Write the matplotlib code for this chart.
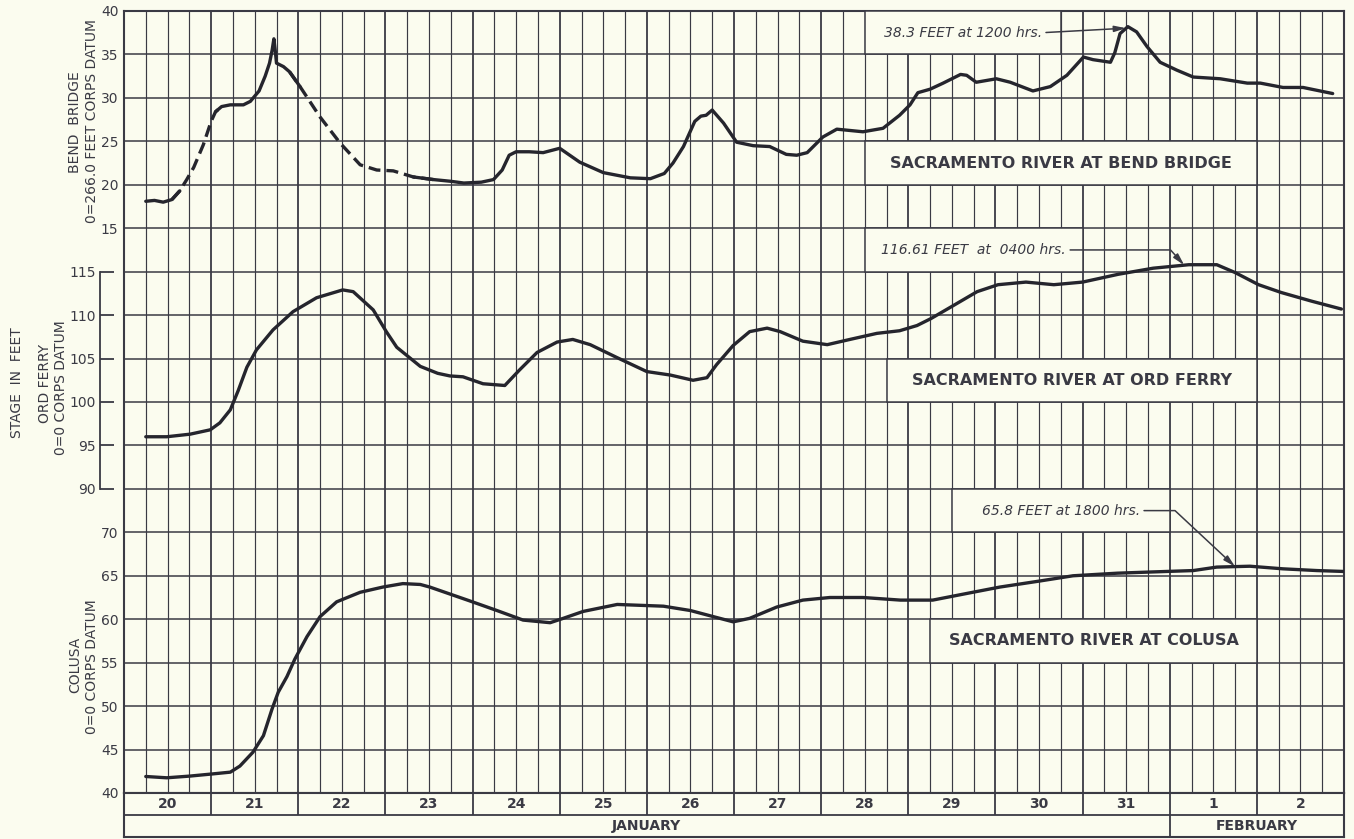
import numpy as np
import matplotlib.pyplot as plt
from matplotlib.patches import Rectangle

BG = "#fbfcef"
INK = "#3a3a44"
CURVE = "#25252d"

# time axis: day of January (Feb 1 = 32)
bend_day = [20.25, 20.35, 20.45, 20.55, 20.64, 20.72, 20.8, 20.91, 21.0, 21.05,
            21.12, 21.22, 21.37, 21.45, 21.55, 21.62, 21.67, 21.7, 21.72, 21.735,
            21.75, 21.83, 21.9, 22.02, 22.25, 22.48, 22.71, 22.9, 23.09, 23.32,
            23.55, 23.75, 23.9, 24.1, 24.24, 24.34, 24.42, 24.5, 24.65, 24.81,
            25.0, 25.23, 25.5, 25.81, 26.04, 26.2, 26.3, 26.42, 26.55, 26.62,
            26.68, 26.75, 26.88, 27.03, 27.22, 27.41, 27.6, 27.72, 27.84, 28.02,
            28.18, 28.48, 28.71, 28.9, 29.02, 29.11, 29.25, 29.4, 29.6, 29.67,
            29.78, 30.01, 30.17, 30.43, 30.63, 30.82, 31.01, 31.12, 31.32, 31.37,
            31.43, 31.52, 31.62, 31.74, 31.89, 32.08, 32.27, 32.58, 32.89, 33.04,
            33.3, 33.53, 33.87]
bend_ft = [18.1, 18.2, 18.0, 18.3, 19.3, 20.6, 22.0, 24.6, 27.3, 28.4,
           29.0, 29.2, 29.2, 29.6, 30.8, 32.5, 34.0, 35.5, 36.8, 35.5,
           34.0, 33.6, 33.0, 31.3, 27.8, 24.8, 22.3, 21.7, 21.6, 20.9,
           20.6, 20.4, 20.2, 20.3, 20.6, 21.7, 23.4, 23.8, 23.8, 23.7,
           24.2, 22.6, 21.4, 20.8, 20.7, 21.3, 22.5, 24.4, 27.3, 27.9,
           28.0, 28.6, 27.1, 24.9, 24.5, 24.4, 23.5, 23.4, 23.7, 25.5,
           26.4, 26.1, 26.5, 28.0, 29.2, 30.6, 31.0, 31.7, 32.7, 32.6,
           31.8, 32.2, 31.8, 30.8, 31.3, 32.6, 34.7, 34.4, 34.1, 35.2,
           37.4, 38.2, 37.6, 35.9, 34.1, 33.2, 32.4, 32.2, 31.7, 31.7,
           31.2, 31.2, 30.5]
bend_dashed = [(20.6, 21.05), (22.0, 23.4)]

ord_day = [20.25, 20.49, 20.76, 20.99, 21.1, 21.22, 21.31, 21.41, 21.52, 21.71,
           21.94, 22.21, 22.51, 22.63, 22.86, 23.01, 23.13, 23.4, 23.6, 23.74,
           23.89, 24.12, 24.37, 24.54, 24.74, 24.97, 25.15, 25.35, 25.66, 26.0,
           26.27, 26.53, 26.69, 26.8, 26.99, 27.18, 27.38, 27.53, 27.79, 28.07,
           28.33, 28.64, 28.9, 29.1, 29.26, 29.5, 29.79, 30.03, 30.35, 30.67,
           31.0, 31.41, 31.81, 32.22, 32.54, 32.75, 33.02, 33.28, 33.63, 33.97]
ord_ft = [96.0, 96.0, 96.3, 96.8, 97.6, 99.1, 101.3, 104.0, 106.0, 108.3,
          110.4, 112.0, 112.9, 112.7, 110.6, 108.1, 106.3, 104.1, 103.3, 103.0,
          102.9, 102.1, 101.9, 103.7, 105.7, 106.9, 107.2, 106.6, 105.1, 103.5,
          103.1, 102.5, 102.8, 104.3, 106.5, 108.1, 108.5, 108.1, 107.0, 106.6,
          107.2, 107.9, 108.2, 108.8, 109.6, 111.0, 112.7, 113.5, 113.8, 113.5,
          113.8, 114.7, 115.4, 115.8, 115.8, 114.9, 113.5, 112.6, 111.6, 110.7]

colusa_day = [20.25, 20.49, 20.76, 21.02, 21.22, 21.33, 21.48, 21.6, 21.7, 21.77,
              21.87, 21.96, 22.1, 22.25, 22.44, 22.71, 22.97, 23.2, 23.4, 23.51,
              23.74, 23.97, 24.28, 24.58, 24.89, 25.04, 25.27, 25.66, 26.19, 26.5,
              26.8, 26.99, 27.18, 27.49, 27.79, 28.1, 28.48, 28.91, 29.28, 29.74,
              30.05, 30.51, 30.89, 31.4, 31.97, 32.27, 32.54, 32.92, 33.3, 33.69,
              33.99]
colusa_ft = [41.9, 41.75, 41.95, 42.2, 42.4, 43.1, 44.7, 46.6, 49.7, 51.6,
             53.4, 55.4, 58.0, 60.3, 62.0, 63.1, 63.7, 64.1, 64.0, 63.7,
             62.9, 62.1, 61.0, 59.9, 59.6, 60.1, 60.9, 61.7, 61.5, 61.0,
             60.2, 59.7, 60.1, 61.4, 62.2, 62.5, 62.5, 62.2, 62.2, 63.1,
             63.7, 64.4, 65.0, 65.3, 65.5, 65.6, 66.0, 66.1, 65.8, 65.6,
             65.5]

bend_ticks = [15, 20, 25, 30, 35, 40]
ord_ticks = [90, 95, 100, 105, 110, 115]
colusa_ticks = [40, 45, 50, 55, 60, 65, 70]
day_labels = ["20", "21", "22", "23", "24", "25", "26", "27", "28", "29",
              "30", "31", "1", "2"]
months = [("JANUARY", 20, 32), ("FEBRUARY", 32, 34)]

W, H = 1354, 839
fig = plt.figure(figsize=(W / 100, H / 100), dpi=100)
fig.patch.set_facecolor(BG)
plt.rcParams["font.family"] = ["DejaVu Sans"]


def frac(x0, y0, x1, y1):
    return [x0 / W, 1 - y1 / H, (x1 - x0) / W, (y1 - y0) / H]


rect = frac(124, 11, 1344, 793)
ax_c = fig.add_axes(rect)   # colusa + grid
ax_o = fig.add_axes(rect)   # ord ferry
ax_b = fig.add_axes(rect)   # bend bridge

for ax in (ax_c, ax_o, ax_b):
    ax.set_xlim(20, 34)
    ax.tick_params(axis="x", length=0, labelbottom=False, which="both")
ax_c.set_ylim(40, 130)
ax_o.set_ylim(55, 145)
ax_b.set_ylim(-50, 40)

tick_font = dict(labelsize=10, labelcolor=INK)

# grid lives on the bottom axes
ax_c.set_facecolor(BG)
ax_c.set_axisbelow(True)
ax_c.set_xticks(np.arange(20, 35, 1))
ax_c.set_xticks(np.arange(20, 34.01, 0.25), minor=True)
ax_c.set_yticks(np.arange(40, 131, 5))
ax_c.set_yticklabels([str(v) if v in colusa_ticks else "" for v in range(40, 131, 5)])
ax_c.grid(True, axis="x", which="major", color=INK, lw=1.3)
ax_c.grid(True, axis="x", which="minor", color=INK, lw=0.85)
ax_c.grid(True, axis="y", which="major", color=INK, lw=1.1)
ax_c.tick_params(axis="y", length=0, pad=4, **tick_font)
for s in ax_c.spines.values():
    s.set_color(INK)
    s.set_linewidth(1.5)

for ax in (ax_o, ax_b):
    ax.patch.set_visible(False)
    for s in ax.spines.values():
        s.set_visible(False)
    ax.set_xticks([])

ax_b.set_yticks(bend_ticks)
ax_b.tick_params(axis="y", length=0, pad=4, **tick_font)

ax_o.set_yticks(ord_ticks)
ax_o.spines["left"].set_visible(True)
ax_o.spines["left"].set_position(("outward", 17.3))
ax_o.spines["left"].set_bounds(90, 115)
ax_o.spines["left"].set_color(INK)
ax_o.spines["left"].set_linewidth(1.3)
ax_o.tick_params(axis="y", direction="in", length=10, width=1.3, color=INK,
                 pad=3, **tick_font)

# curves
bd = np.array(bend_day)
bf = np.array(bend_ft)
dashed = np.zeros(len(bd), bool)
for a, b in bend_dashed:
    dashed |= (bd >= a) & (bd <= b)
solid_mask = ~dashed
# grow both masks by one point so the pieces meet
dash_plot = dashed | np.roll(dashed, 1) | np.roll(dashed, -1)
solid_plot = solid_mask | np.roll(solid_mask, 1) | np.roll(solid_mask, -1)
ax_b.plot(bd, np.where(solid_plot, bf, np.nan), color=CURVE, lw=2.4,
          solid_capstyle="round", solid_joinstyle="round", zorder=3)
ax_b.plot(bd, np.where(dash_plot, bf, np.nan), color=CURVE, lw=2.4,
          dashes=(3.6, 1.8), zorder=3)
ax_o.plot(ord_day, ord_ft, color=CURVE, lw=2.4, solid_joinstyle="round",
          solid_capstyle="round", zorder=3)
ax_c.plot(colusa_day, colusa_ft, color=CURVE, lw=2.4, solid_joinstyle="round",
          solid_capstyle="round", zorder=3)


def label_box(ax, x0, x1, y0, y1, text=None, **kw):
    ax.add_patch(Rectangle((x0, y0), x1 - x0, y1 - y0, facecolor=BG,
                           edgecolor=INK, lw=1.1, zorder=2))
    if text:
        ax.text((x0 + x1) / 2, (y0 + y1) / 2, text, ha="center", va="center",
                color=INK, zorder=4, **kw)


name_kw = dict(fontsize=11.5, fontweight="bold")
label_box(ax_b, 28.5, 33.0, 20, 25, "SACRAMENTO RIVER AT BEND BRIDGE", **name_kw)
label_box(ax_o, 28.75, 33.0, 100, 105, "SACRAMENTO RIVER AT ORD FERRY", **name_kw)
label_box(ax_c, 29.25, 33.0, 55, 60, "SACRAMENTO RIVER AT COLUSA", **name_kw)
label_box(ax_b, 28.5, 30.75, 35, 40)
label_box(ax_o, 28.5, 31.0, 115, 120)
label_box(ax_c, 29.5, 32.0, 70, 75)

note_kw = dict(ha="center", va="center", fontsize=10, style="italic",
               color=INK, zorder=4)
arrow = dict(arrowstyle="-|>,head_length=0.7,head_width=0.18", color=INK,
             lw=1.1, shrinkA=1, shrinkB=0, relpos=(1, 0.5))

t = 31.5
ax_b.annotate("38.3 FEET at 1200 hrs.", xy=(t, np.interp(t, bend_day, bend_ft)),
              xytext=(29.625, 37.5), arrowprops=arrow, **note_kw)
t = 32 + 4 / 24
ax_o.annotate("116.61 FEET  at  0400 hrs.", xy=(t, np.interp(t, ord_day, ord_ft)),
              xytext=(29.75, 117.5),
              arrowprops=dict(arrow, connectionstyle="angle,angleA=0,angleB=-48,rad=0"),
              **note_kw)
t = 32 + 18 / 24
ax_c.annotate("65.8 FEET at 1800 hrs.", xy=(t, np.interp(t, colusa_day, colusa_ft)),
              xytext=(30.75, 72.5),
              arrowprops=dict(arrow, connectionstyle="angle,angleA=0,angleB=-43,rad=0"),
              **note_kw)

# date strip
ax_d = fig.add_axes(frac(124, 793, 1344, 837))
ax_d.set_facecolor(BG)
ax_d.set_xlim(20, 34)
ax_d.set_ylim(0, 2)
ax_d.set_xticks([])
ax_d.set_yticks([])
for s in ax_d.spines.values():
    s.set_color(INK)
    s.set_linewidth(1.5)
ax_d.axhline(1, color=INK, lw=1.3)
ax_d.vlines(np.arange(21, 34), 1, 2, color=INK, lw=1.3)
for i, lab in enumerate(day_labels):
    ax_d.text(20 + i + 0.5, 1.5, lab, ha="center", va="center", fontsize=10,
              fontweight="bold", color=INK)
for name, a, b in months:
    if a > 20:
        ax_d.vlines(a, 0, 1, color=INK, lw=1.3)
    ax_d.text((a + b) / 2, 0.5, name, ha="center", va="center", fontsize=10,
              fontweight="bold", color=INK)


def ylab(x, y, s):
    fig.text(x / W, 1 - y / H, s, rotation=90, ha="center", va="center",
             fontsize=10, color=INK)


ylab(75, 122, "BEND  BRIDGE")
ylab(92, 121, "0=266.0 FEET CORPS DATUM")
ylab(17, 383, "STAGE  IN  FEET")
ylab(45, 383, "ORD FERRY")
ylab(61, 388, "0=0 CORPS DATUM")
ylab(75, 665, "COLUSA")
ylab(92, 667, "0=0 CORPS DATUM")

fig.savefig("out.png", dpi=100, facecolor=BG)
